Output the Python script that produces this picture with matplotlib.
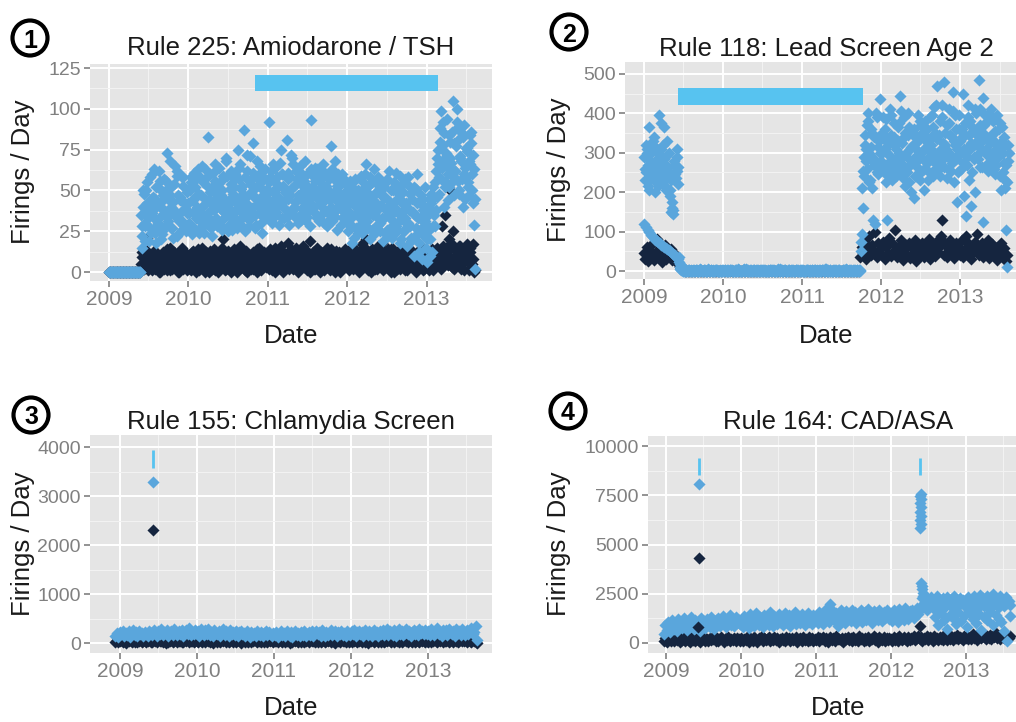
import numpy as np
import pandas as pd
import matplotlib
matplotlib.use('Agg')
import matplotlib.pyplot as plt
import matplotlib.dates as mdates
from matplotlib.patches import Circle

plt.rcParams['font.family'] = ['Liberation Sans', 'DejaVu Sans']


def nums(s):
    return np.array(s.split(), dtype=float)


# ---- panel 1: Rule 225 Amiodarone / TSH (weekly from 2009-01-01) ----
p1_total_a = nums("""
0 0 0 0 0 0 0 0 0 0 0 0 0 0 0 0 0 0 0 0 0 35 22 48 30 55 41 27 60 38 45 18 52 33 43 25 57 36 73 29 47 40 21 54 34 62 31 44 26 58 39 49
42 28 55 37 61 33 47 24 58 40 35 63 30 83 45 27 52 38 66 31 49 43 26 57 36 70 41 29 54 46 34 60 39 75 32 51 44 87 37 62 28 56 48 79 35 53 42 65 30 58 45 38
48 92 38 57 44 64 35 52 41 75 60 33 49 81 45 58 36 66 43 54 30 62 47 39 56 68 34 51 42 93 59 37 46 63 31 55 40 48 61 28 50 44 77 35 57 46 26 53 39 60 33 49
40 25 52 33 46 21 57 37 44 29 50 35 60 66 27 48 39 55 23 43 34 58 30 47 19 52 38 26 62 41 32 55 24 45 36 59 20 49 31 42 16 53 28 45 37 22 51 33 12 47 27 40
30 6 45 20 38 52 28 62 75 48 99 68 85 55 72 44 80 63 105 58 77 92 50 70 85 60 45 74 52 66 79 42 29
""")
p1_total_b = nums("""
0 0 0 0 0 0 0 0 0 0 0 0 0 0 0 0 0 0 0 0 0 15 40 28 50 33 19 45 36 63 24 42 30 56 20 47 38 29 51 35 68 27 43 37 59 23 46 32 53 28 41 36
30 50 23 44 36 57 26 48 39 65 29 45 53 34 60 22 41 56 33 47 64 28 50 37 44 59 25 38 62 31 52 43 27 57 66 36 48 25 72 41 54 33 61 46 29 68 40 52 24 47 63 34
36 55 62 30 50 41 58 46 67 33 53 44 38 61 29 51 70 40 34 57 47 65 32 53 43 36 60 45 28 52 40 64 34 50 57 42 66 30 53 37 45 59 31 48 68 38 43 55 29 46 57 36
30 48 36 18 55 42 27 50 34 59 24 45 38 31 53 20 44 35 63 28 49 39 25 54 33 46 57 22 40 50 29 37 61 26 48 18 42 54 33 27 58 38 21 49 10 35 60 25 43 8 38 52
15 40 26 48 12 35 55 46 66 88 57 78 40 65 94 52 70 86 47 62 100 56 82 68 40 90 58 76 47 84 60 72 2
""")
p1_total_c = nums("""
0 0 0 0 0 0 0 0 0 0 0 0 0 0 0 0 0 0 0 0 0 28 50 19 42 37 58 24 46 33 52 29 62 40 23 49 35 56 31 44 27 53 38 65 22 47 36 58 30 42 25 51
36 58 44 27 52 40 63 31 47 55 24 42 58 37 49 30 61 45 28 54 39 47 59 33 68 43 35 51 26 48 57 38 45 64 29 53 41 58 33 47 71 39 50 27 59 44 36 55 62 41 33 51
57 43 31 66 49 37 54 29 45 60 40 51 34 57 47 72 38 53 62 44 55 35 49 58 32 46 52 39 63 41 48 56 33 58 44 61 36 52 45 31 57 40 63 49 34 53 60 41 47 34 55 42
45 33 56 28 41 50 36 24 47 39 55 30 43 52 35 58 26 44 37 49 29 53 41 33 46 24 56 35 43 21 50 39 28 53 31 44 37 25 57 40 30 48 19 36 52 27 42 18 33 45 22 31
20 35 10 42 28 46 38 70 58 80 64 92 52 73 60 84 67 55 79 62 88 48 71 57 83 64 76 55 68 86 50 63 45
""")
p1_navy = nums("""
0 0 0 0 0 0 0 0 0 0 0 0 0 0 0 0 0 0 0 0 0 5 12 2 8 21 4 10 1 7 13 3 9 0 6 11 2 8 14 4 1 10 5 12 3 7 0 9 15 2 6 11
4 9 1 13 6 0 11 3 8 15 2 7 12 5 0 10 4 14 1 8 6 11 3 20 9 2 13 5 0 7 12 4 10 1 16 6 3 9 13 0 8 5 11 2 7 14 4 10 1 6 12 3
9 2 14 5 11 0 7 12 3 16 8 1 10 6 18 4 13 2 9 15 0 7 11 3 14 5 1 10 19 6 12 2 8 15 4 0 11 7 13 3 9 1 14 5 10 2 8 12 0 6 11 4
7 13 1 10 4 15 8 2 12 6 17 3 9 20 5 11 0 14 7 2 10 16 4 8 1 13 6 11 3 9 15 0 7 12 5 2 10 14 4 8 1 11 6 13 3 9 0 12 5 7 15 2
8 3 11 6 14 1 9 13 5 12 7 28 10 35 15 4 50 18 25 2 13 8 16 5 11 1 9 17 6 12 3 8 0
""")
p1_navy_b = nums("""
0 0 0 0 0 0 0 0 0 0 0 0 0 0 0 0 0 0 0 0 0 9 3 14 6 1 11 4 8 13 2 7 10 0 5 12 3 9 1 6 15 2 8 11 4 0 13 7 3 10 5 1
7 2 12 5 10 3 14 1 8 6 11 0 9 4 13 2 7 12 5 0 10 3 15 6 1 9 12 4 8 2 14 6 0 11 3 8 13 1 7 10 4 2 12 6 9 0 15 5 8 3 11 6
4 12 7 1 10 15 3 9 6 13 0 11 5 8 2 14 7 10 4 1 12 6 9 16 3 8 13 5 0 11 7 2 14 9 4 12 6 1 10 15 3 8 5 11 0 13 7 4 10 2 9 14
11 4 9 14 2 7 12 5 0 10 3 8 15 6 1 12 9 4 13 7 2 11 5 18 8 3 10 14 6 0 12 4 9 2 13 7 11 5 1 10 15 3 8 12 6 2 10 4 14 9 1 11
4 10 1 13 7 9 3 15 6 11 2 16 8 12 5 20 9 3 14 7 11 4 16 2 10 6 13 8 1 15 5 17 1
""")
p1_flag = ('2010-11-03', '2013-02-21', 111, 121)

# ---- panel 2: Rule 118 Lead Screen Age 2 (weekly from 2009-01-01) ----
p2_total_a = nums("""
290 250 310 365 230 275 320 200 260 300 395 375 240 285 215 330 265 190 150 145 280 235 255 35 18 8 3 1 0 2 0 4 1 0 3 0 2 5 0 1 3 0 2 0 4 1 0 2 3 0 1 0
2 0 1 4 0 3 0 1 2 0 5 1 0 2 0 3 1 0 4 0 2 1 0 3 0 1 2 0 4 1 0 2 0 3 1 0 2 0 5 1 0 2 0 3 0 1 4 0 2 0 1 3
0 2 1 0 3 0 1 4 0 2 0 1 3 0 2 0 5 1 0 2 1 0 3 0 2 1 0 4 0 1 2 0 3 1 0 2 0 1 3 75 210 290 345 260 380 230 315 130 285 400 250 330
437 300 255 360 130 320 280 395 245 340 310 270 375 445 290 235 350 260 400 225 315 280 185 340 265 305 230 370 285 205 330 360 250 310 395 240 350 469 290 380 265 325 480 300 235 410 345 275 455 320 360 250
395 300 340 190 375 270 420 310 165 355 290 400 345 485 265 330 440 305 380 255 325 410 290 350 270 395 315 240 365 300 230 105 280
""")
p2_total_b = nums("""
230 320 270 205 300 255 340 245 285 215 270 310 225 365 260 295 240 205 175 155 250 290 220 10 4 1 0 2 0 3 1 0 2 0 4 1 0 3 0 2 0 1 5 0 2 1 0 3 0 1 2 0
1 3 0 2 0 4 1 0 2 0 3 0 1 2 0 5 0 1 3 0 2 0 4 1 0 2 0 3 1 0 1 2 0 4 0 1 3 0 2 0 3 1 0 2 0 4 1 0 2 1 0 3
2 0 1 3 0 4 0 1 2 0 3 1 0 2 0 1 4 0 2 0 0 3 1 0 2 0 1 3 0 5 0 2 0 1 3 0 2 0 1 50 160 240 310 370 225 295 350 270 120 335 245 300
280 390 335 225 300 265 410 230 330 285 240 365 300 255 325 390 215 290 345 270 200 320 360 240 295 335 380 255 310 345 275 230 390 320 280 415 260 335 300 240 420 285 350 310 260 375 295 340 225 395 175 310
330 260 450 310 140 290 345 380 250 320 200 360 285 410 310 125 370 340 295 400 265 335 380 245 310 290 360 205 330 275 210 10 320
""")
p2_total_c = nums("""
260 300 215 280 245 330 270 225 310 250 290 235 320 270 205 255 300 230 160 270 245 310 265 6 2 0 1 3 0 2 0 1 4 0 2 0 1 3 0 2 1 0 3 0 1 2 0 4 0 1 0 2
0 3 1 0 2 4 0 1 3 0 2 0 1 5 0 2 3 0 1 0 4 2 0 1 3 0 2 1 0 4 0 3 2 0 1 0 5 1 2 0 3 0 1 2 4 0 1 0 3 2 0 1
1 0 3 2 0 1 4 0 2 1 0 3 0 2 1 5 0 2 0 1 3 0 2 0 4 1 0 2 3 0 1 0 2 4 0 1 3 0 2 95 255 320 280 400 300 360 210 340 275 390 315 265
350 270 310 385 240 295 345 265 375 320 255 330 290 405 270 340 300 250 365 310 280 350 240 325 395 285 300 350 260 380 310 290 335 250 365 300 420 275 345 310 390 265 320 370 290 345 255 405 330 285 310 360
300 360 275 345 310 390 230 325 365 285 410 330 300 370 265 350 395 310 275 340 385 300 260 355 320 290 375 310 250 340 270 225 300
""")
p2_tail = nums("120 112 105 98 92 88 84 80 76 73 70 67 64 61 58 56 53 50 47 44 40 36 30 24 16 10 6 3")
p2_navy = nums("""
45 30 60 25 52 38 70 28 48 82 35 58 22 44 65 30 50 40 56 28 45 35 25 18 10 5 2 0 0 0 0 0 0 0 0 0 0 0 0 0 0 0 0 0 0 0 0 0 0 0 0 0
0 0 0 0 0 0 0 0 0 0 0 0 0 0 0 0 0 0 0 0 0 0 0 0 0 0 0 0 0 0 0 0 0 0 0 0 0 0 0 0 0 0 0 0 0 0 0 0 0 0 0 0
0 0 0 0 0 0 0 0 0 0 0 0 0 0 0 0 0 0 0 0 0 0 0 0 0 0 0 0 0 0 0 0 0 0 0 0 0 0 0 35 60 45 75 30 55 90 40 65 50 100 35 70
55 40 75 30 62 45 85 38 70 50 105 35 60 48 80 28 55 66 42 72 33 58 47 78 25 63 52 40 70 36 60 45 82 30 55 68 38 75 48 62 88 130 42 70 35 58 80 45 65 32 72 50
60 40 78 35 55 88 45 68 30 62 50 75 95 42 58 70 36 65 48 80 33 55 68 40 60 28 52 45 70 35 58 25 42
""")
p2_flag = ('2009-06-07', '2011-10-08', 421, 464)

# ---- panel 3: Rule 155 Chlamydia Screen (weekly from 2008-12-10) ----
p3_total = nums("""
150 200 130 230 180 250 140 210 170 240 120 190 260 160 220 135 245 175 205 150 230 185 140 255 195 165 270 210 145 240 180 280 155 225 195 265 140 215 250 170 290 200 160 235 185 275 145 220 260 180 300 165 230 190 270
175 240 150 285 205 160 260 190 295 170 230 145 275 210 180 250 135 225 290 165 240 195 150 270 185 220 160 255 140 215 245 175 200 150 235 185 130 225 170 210 145 240 190 160 230 135 205 250 155 215 180 140
200 155 230 125 190 245 165 210 140 235 180 150 220 130 195 240 160 205 145 225 170 250 135 190 215 160 240 145 200 255 175 220 150 260 185 135 230 170 210 265 155 195 240 140 220 180 255 165 205 145 235 190
160 245 185 270 150 215 255 175 230 140 260 195 165 240 210 150 275 180 225 145 250 190 265 170 215 285 155 235 200 170 260 145 225 280 190 240 160 210 290 175 250 135 230 270 185 215 160 280 200 245 175 265
190 240 155 285 210 170 255 300 180 230 145 275 200 260 165 290 220 185 250 140 280 205 235 170 295 215 160 265 190 245 305 175 230 350 60
""")
p3_navy = nums("""
30 55 15 45 60 25 40 10 50 35 65 20 45 30 55 15 40 60 25 50 35 20 45 70 30 15 55 40 25 60 35 50 20 45 10 65 30 40 55 25 35 60 15 50 45 30 20 55 40 65 25 35 50 15 45
40 20 60 35 15 55 30 65 45 25 50 10 40 60 30 45 20 55 35 70 25 50 15 40 60 30 45 20 55 35 10 50 65 25 40 30 55 15 45 60 35 20 50 40 25 65 30 45 15 55 35 40
25 50 35 15 60 40 20 55 30 45 65 10 40 25 55 35 50 20 60 30 45 15 40 55 25 70 35 50 20 45 30 60 15 40 55 25 45 35 65 20 50 30 10 55 40 25 60 35 45 20 50 30
45 20 60 35 50 15 40 65 25 55 30 45 10 50 35 60 20 40 55 30 70 25 45 15 50 35 60 40 20 55 30 65 45 25 50 15 40 60 35 20 55 45 30 65 25 50 40 15 60 35 45 25
50 30 65 20 45 60 35 15 55 40 70 25 50 35 60 20 45 65 30 55 40 15 50 70 35 45 60 25 55 40 30 65 45 20 10
""")
p3_spike_dates = ['2009-06-07']
p3_spike_total = [3280]
p3_spike_navy = [2306]
p3_marks = [('2009-06-07', 3570, 3940)]

# ---- panel 4: Rule 164 CAD/ASA (weekly from 2008-12-20) ----
p4_total = nums("""
450 900 650 1050 550 800 1150 700 950 600 1200 850 1000 750 1250 900 650 1100 800 1300 950 700 1150 850 1050 600 1250 900 1100 750 1200 950 800 1300 1000 700 1150 900 1250 850 1050 1350 950 800 1200 1000 1400 900 1100 850 1300 1000 1150 950
1100 800 1350 950 1200 750 1450 1000 1250 850 1500 1050 900 1300 1150 800 1400 1000 1250 900 1550 1100 850 1350 1200 950 1450 1050 1300 900 1500 1150 1000 1400 850 1250 1100 1550 950 1350 1200 1000 1450 1100 900 1300 1500 1050 1250 950 1400 1150
1300 1000 1550 1150 1400 950 1650 1200 1450 1050 2000 1300 1600 1100 1500 850 1350 1700 1150 1450 1000 1600 1250 1400 1100 1700 1300 1550 1000 1450 1200 1650 1050 1350 1550 1150 1750 1250 1450 1000 1600 1300 1500 1150 1700 1350 1100 1550 1250 1650 1400 1200
1450 1100 1650 1250 1500 1050 1750 1300 1550 1150 1800 1350 1200 1600 1400 1700 1250 1550 1800 1450 1650 1900 2300 1850 2100 1700 2250 1950 2350 1800 2150 2000 2400 1750 2200 1900 2300 2050 1850 2350 2100 1950 2250 1800 2400 2000 2150 1900 2300 2050 2200 1950
2100 1800 2350 1950 2250 1700 2400 2000 2200 1850 2450 2050 2300 1900 2150 2400 1750 2250 2050 2500 1950 2300 2100 1850 2400 2000 2200 1900 2350 2050 2150 1950
""")
# scattered low values after the mid-2012 jump (fortnightly from 2012-08-01)
p4_total_low = nums("1300 900 1500 1150 700 1400 1250 950 1550 1100 1350 800 1500 1200 1000 1450 650 1300 1150 1550 900 1400 1200 1050 600 100 1350")
p4_navy = nums("""
100 250 50 180 300 120 220 80 280 150 200 60 260 140 320 90 230 170 50 290 130 210 100 270 160 40 240 190 310 110 220 80 260 150 200 330 120 250 90 180 280 140 60 230 170 300 100 210 150 270 80 240 190 120
260 90 210 150 300 70 230 180 120 280 160 50 250 200 330 110 240 140 190 290 80 220 170 310 130 250 60 200 270 150 100 320 180 230 90 260 140 210 300 60 190 250 120 280 170 220 80 310 150 240 110 200
150 280 90 230 190 320 120 260 70 210 300 160 240 100 350 180 220 130 270 60 250 190 310 140 230 80 290 170 210 120 330 200 260 90 240 160 300 110 220 180 340 130 250 70 280 200 150 310 100 230 170 260
210 120 300 170 250 90 330 190 140 280 220 80 310 160 260 200 350 130 240 380 180 290 110 270 210 340 150 300 230 120 360 190 260 140 320 220 170 390 240 130 300 200 350 160 280 230 410 180 310 250 140 330
250 380 180 320 220 450 270 350 160 400 290 230 480 310 200 370 260 420 190 340 280 500 240 360 210 390 300 250 430 330 270 350
""")
p4_spike_dates = ['2009-06-10', '2012-05-20', '2012-05-26', '2012-05-20', '2012-05-26', '2012-05-20',
                  '2012-05-26', '2012-05-20', '2012-05-26', '2012-05-20', '2012-05-26',
                  '2012-05-28', '2012-05-31', '2012-06-02', '2012-06-04', '2012-06-07', '2012-06-10']
p4_spike_total = [8070, 5850, 6050, 6250, 6450, 6650, 6900, 7100, 7300, 7450, 7550,
                  3050, 2900, 2750, 2550, 2400, 2250]
p4_spike_navy_dates = ['2009-06-03', '2009-06-10', '2012-05-23']
p4_spike_navy = [800, 4315, 850]
p4_marks = [('2009-06-10', 8530, 9400), ('2012-05-23', 8550, 9400)]

titles = ['Rule 225: Amiodarone / TSH', 'Rule 118: Lead Screen Age 2',
          'Rule 155: Chlamydia Screen', 'Rule 164: CAD/ASA']

NAVY = '#15253F'
BLUE = '#5AA6DC'
FLAG = '#57C3F0'
GREY = '#808080'
MS = 38

W, H = 1016, 722
fig = plt.figure(figsize=(W / 100, H / 100), dpi=100)
fig.patch.set_facecolor('white')


def add_panel(box, xlim, ylim, yticks):
    x0, y0, x1, y1 = box
    ax = fig.add_axes([x0 / W, 1 - y1 / H, (x1 - x0) / W, (y1 - y0) / H])
    ax.set_facecolor('#E5E5E5')
    for s in ax.spines.values():
        s.set_visible(False)
    ax.set_xlim(pd.Timestamp(xlim[0]), pd.Timestamp(xlim[1]))
    ax.set_ylim(ylim)
    ax.xaxis.set_major_locator(mdates.YearLocator())
    ax.xaxis.set_major_formatter(mdates.DateFormatter('%Y'))
    ax.xaxis.set_minor_locator(mdates.MonthLocator(bymonth=7))
    ax.set_yticks(yticks)
    step = yticks[1] - yticks[0]
    ax.set_yticks([t + step / 2 for t in yticks[:-1]], minor=True)
    ax.set_yticklabels([str(int(t)) for t in yticks])
    ax.grid(which='major', color='white', lw=1.4)
    ax.grid(which='minor', color='#F3F3F3', lw=0.7)
    ax.set_axisbelow(True)
    ax.tick_params(which='major', length=4.5, width=1.2, color=GREY, labelcolor=GREY, pad=2)
    ax.tick_params(which='minor', length=0)
    ax.tick_params(axis='x', labelsize=15)
    ax.tick_params(axis='y', labelsize=14)
    return ax


def dots(ax, start, vals, color, offset=0, freq='7D'):
    d = pd.date_range(start, periods=len(vals), freq=freq) + pd.Timedelta(days=offset)
    ax.scatter(d, vals, marker='D', s=MS, c=color, linewidths=0, zorder=3)


# panel 1
ax1 = add_panel((90, 64, 492, 281), ('2008-10-06', '2013-10-29'), (-5.5, 127.5), [0, 25, 50, 75, 100, 125])
dots(ax1, '2009-01-01', p1_navy, NAVY)
dots(ax1, '2009-01-01', p1_navy_b, NAVY, 3)
dots(ax1, '2009-01-01', p1_total_a, BLUE, 0)
dots(ax1, '2009-01-01', p1_total_b, BLUE, 3)
dots(ax1, '2009-01-01', p1_total_c, BLUE, 5)
ax1.fill_between([pd.Timestamp(p1_flag[0]), pd.Timestamp(p1_flag[1])], p1_flag[2], p1_flag[3],
                 color=FLAG, lw=0, zorder=4)

# panel 2
ax2 = add_panel((625, 62, 1027, 279), ('2008-10-05', '2013-11-05'), (-20, 530), [0, 100, 200, 300, 400, 500])
dots(ax2, '2009-01-01', p2_navy, NAVY, -2)
dots(ax2, '2009-01-01', p2_tail, BLUE, 2)
dots(ax2, '2009-01-01', p2_total_a, BLUE, 0)
dots(ax2, '2009-01-01', p2_total_b, BLUE, 3)
dots(ax2, '2009-01-01', p2_total_c, BLUE, 5)
ax2.fill_between([pd.Timestamp(p2_flag[0]), pd.Timestamp(p2_flag[1])], p2_flag[2], p2_flag[3],
                 color=FLAG, lw=0, zorder=4)

# panel 3
ax3 = add_panel((90, 435, 492, 653), ('2008-08-12', '2013-10-31'), (-204, 4245), [0, 1000, 2000, 3000, 4000])
dots(ax3, '2008-12-10', p3_navy, NAVY)
dots(ax3, '2008-12-10', p3_total, BLUE)
ax3.scatter(pd.to_datetime(p3_spike_dates), p3_spike_navy, marker='D', s=MS, c=NAVY, linewidths=0, zorder=3)
ax3.scatter(pd.to_datetime(p3_spike_dates), p3_spike_total, marker='D', s=MS, c=BLUE, linewidths=0, zorder=3)
for d, lo, hi in p3_marks:
    ax3.vlines(pd.Timestamp(d), lo, hi, color=FLAG, lw=2, zorder=4)

# panel 4
ax4 = add_panel((648, 436, 1029, 653), ('2008-10-04', '2013-11-03'), (-508, 10508), [0, 2500, 5000, 7500, 10000])
dots(ax4, '2008-12-20', p4_navy, NAVY)
dots(ax4, '2008-12-20', p4_total, BLUE)
dots(ax4, '2012-08-01', p4_total_low, BLUE, 3, freq='14D')
ax4.scatter(pd.to_datetime(p4_spike_navy_dates), p4_spike_navy, marker='D', s=MS, c=NAVY, linewidths=0, zorder=3)
ax4.scatter(pd.to_datetime(p4_spike_dates), p4_spike_total, marker='D', s=MS, c=BLUE, linewidths=0, zorder=3)
for d, lo, hi in p4_marks:
    ax4.vlines(pd.Timestamp(d), lo, hi, color=FLAG, lw=2, zorder=4)

# titles, axis labels and panel numbers (pixel positions)
title_pos = [(291, 48), (826, 49), (291, 422), (838, 422)]
date_pos = [(291, 336), (826, 336), (291, 708), (838, 708)]
ylab_pos = [(23, 172), (559, 170), (23, 544), (559, 544)]
badge_pos = [(30, 38), (569, 32), (31, 415), (568, 411)]

for i in range(4):
    tx, ty = title_pos[i]
    fig.text(tx / W, 1 - ty / H, titles[i], fontsize=18.5, ha='center', va='center', color='#1a1a1a')
    dx, dy = date_pos[i]
    fig.text(dx / W, 1 - dy / H, 'Date', fontsize=18.5, ha='center', va='center', color='#1a1a1a')
    lx, ly = ylab_pos[i]
    fig.text(lx / W, 1 - ly / H, 'Firings / Day', fontsize=18.5, ha='center', va='center',
             rotation=90, color='#1a1a1a')
    bx, by = badge_pos[i]
    fig.add_artist(Circle((bx / 100, (H - by) / 100), 0.175, transform=fig.dpi_scale_trans,
                          fill=False, lw=3, ec='black'))
    fig.text(bx / W, 1 - by / H, str(i + 1), fontsize=18, fontweight='bold', ha='center',
             va='center_baseline', color='black')

fig.savefig('out.png', dpi=100)
